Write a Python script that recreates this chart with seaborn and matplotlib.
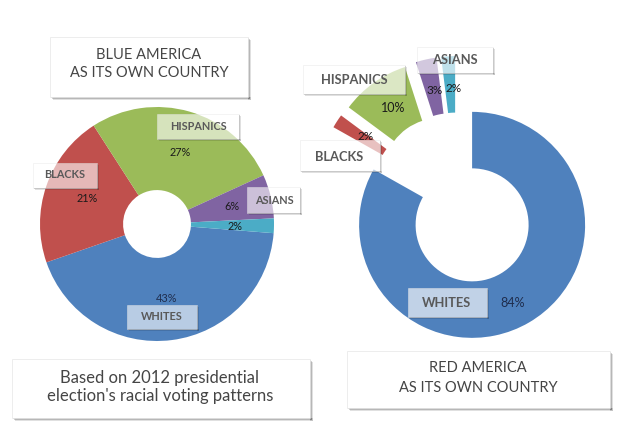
import matplotlib
matplotlib.use("Agg")
import matplotlib.pyplot as plt
from matplotlib.patches import Rectangle
import seaborn as sns

# ---- data ----
groups = ["WHITES", "BLACKS", "HISPANICS", "ASIANS", "OTHER"]
blue_share = [43, 21, 27, 6, 2]
red_share = [84, 2, 10, 3, 2]
group_colors = ["#4F81BD", "#C0504D", "#9BBB59", "#8064A2", "#4BACC6"]
red_explode = [0.265, 0.265, 0.265, 0.265, 0.265]

blue_title = "BLUE AMERICA\nAS ITS OWN COUNTRY"
red_title = "RED AMERICA\nAS ITS OWN COUNTRY"
note = "Based on 2012 presidential\nelection's racial voting patterns"

sns.set_theme(style="white")
plt.rcParams["font.family"] = ["Lato", "DejaVu Sans"]

W, H = 640, 434
fig = plt.figure(figsize=(6.4, 4.34), dpi=100)
ax = fig.add_axes([0, 0, 1, 1])

def Y(y):
    return H - y

# ---- donuts ----
lc, lr = (157, Y(224)), 117
ax.pie(blue_share, colors=group_colors, startangle=-4.5, counterclock=False,
       center=lc, radius=lr, wedgeprops=dict(width=lr * 0.71, linewidth=0))

rc, rr = (457, Y(199)), 113
ax.pie(red_share, colors=group_colors, startangle=90, counterclock=False,
       center=rc, radius=rr, explode=[e * rr for e in red_explode],
       wedgeprops=dict(width=rr * 0.5, linewidth=0))

ax.set_xlim(0, W)
ax.set_ylim(0, H)
ax.set_aspect("equal")
ax.axis("off")

# ---- boxes ----
def box(x0, y0, x1, y1, alpha=1.0, shadow=3):
    for k, a in [(shadow, 0.12), (shadow - 1, 0.18), (max(shadow - 2, 1), 0.22)]:
        ax.add_patch(Rectangle((x0 + k, Y(y1 + k)), x1 - x0, k, facecolor="black",
                               alpha=a, linewidth=0, zorder=5))
        ax.add_patch(Rectangle((x1, Y(y1 + k)), k, y1 - y0, facecolor="black",
                               alpha=a, linewidth=0, zorder=5))
    ax.add_patch(Rectangle((x0, Y(y1)), x1 - x0, y1 - y0, facecolor="white",
                           alpha=alpha, edgecolor="#e6e6e6", linewidth=0.5, zorder=6))

def txt(x, y, s, size, weight="normal", color="#404040", **kw):
    ax.text(x, Y(y), s, ha="center", va="center", fontsize=size, fontweight=weight,
            color=color, zorder=7, **kw)

# titles
box(50, 37, 248, 97)
txt(149, 64, blue_title, 10.5, "normal", "#454545", linespacing=1.35)
box(12, 359, 310, 418)
txt(160, 387, note, 12, "normal", "#454545", linespacing=1.2)
box(347, 351, 610, 408)
txt(478, 378, red_title, 10.5, "normal", "#454545", linespacing=1.5)

pct = [f"{v}%" for v in blue_share]
rpct = [f"{v}%" for v in red_share]
lab_col = "#595959"
pct_col = "#1a1a1a"

# left labels
box(157, 114, 239, 139, alpha=0.6, shadow=2)
txt(198, 127, groups[2], 7.8, "bold", lab_col)
txt(180, 152, pct[2], 7.8, color=pct_col)
box(33, 163, 97, 188, alpha=0.6, shadow=2)
txt(65, 175, groups[1], 7.8, "bold", lab_col)
txt(87, 198, pct[1], 7.8, color=pct_col)
box(247, 187, 300, 213, alpha=0.6, shadow=2)
txt(274, 200, groups[3], 7.8, "bold", lab_col)
txt(232, 207, pct[3], 7.8, color=pct_col)
txt(235, 227, pct[4], 7.8, color=pct_col)
txt(167, 298, pct[0], 7.8, color="#1f2d4d")
box(127, 305, 197, 329, alpha=0.6, shadow=2)
txt(162, 317, groups[0], 7.8, "bold", lab_col)

# right labels
box(417, 47, 493, 73, alpha=0.65, shadow=2)
txt(455, 60, groups[3], 9.3, "bold", lab_col)
box(303, 65, 405, 94, alpha=0.65, shadow=2)
txt(354, 80, groups[2], 9.3, "bold", lab_col)
txt(393, 108, rpct[2], 9, color=pct_col)
txt(435, 91, rpct[3], 8.5, color=pct_col)
txt(454, 88, rpct[4], 8.5, color=pct_col)
txt(366, 136, rpct[1], 8.5, color=pct_col)
box(300, 140, 380, 171, alpha=0.65, shadow=2)
txt(339, 157, groups[1], 9.3, "bold", lab_col)
box(408, 288, 487, 317, alpha=0.65, shadow=2)
txt(447, 303, groups[0], 9.3, "bold", lab_col)
txt(513, 303, rpct[0], 9, color="#1f2d4d")

fig.savefig("out.png", dpi=100)
